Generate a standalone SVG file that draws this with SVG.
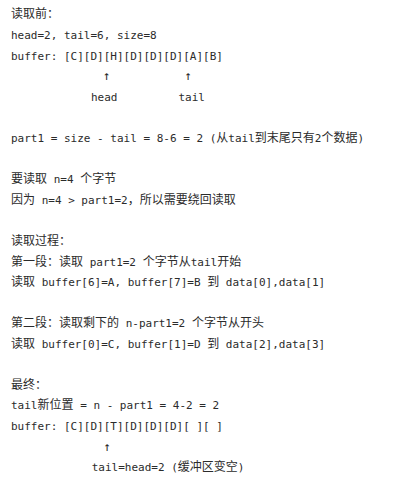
<svg xmlns="http://www.w3.org/2000/svg" width="409" height="485" viewBox="0 0 409 485">
<style>
text{font-family:"DejaVu Sans Mono","Noto Sans CJK SC",monospace;font-size:11px;fill:#2b2b2b;white-space:pre}
.c{font-family:"Noto Sans CJK SC",sans-serif;font-size:12px}
.a{font-size:12.5px}
</style>
<rect width="409" height="485" fill="#ffffff"/>
<g id="before">
<text x="11" y="18.3"><tspan class="c">读取前：</tspan></text>
<text x="11" y="38.9">head=2, tail=6, size=8</text>
<text x="11" y="59.5">buffer: [C][D][H][D][D][D][A][B]</text>
<text class="a" x="106.7" y="80.3" text-anchor="middle">↑</text>
<text class="a" x="188.3" y="80.3" text-anchor="middle">↑</text>
<text x="91" y="100.7">head</text>
<text x="178.5" y="100.7">tail</text>
</g>
<g id="calc">
<text x="11" y="141.9">part1 = size - tail = 8-6 = 2 (<tspan class="c">从</tspan>tail<tspan class="c">到末尾只有</tspan>2<tspan class="c">个数据</tspan>)</text>
<text x="11" y="183.1"><tspan class="c">要读取</tspan> n=4 <tspan class="c">个字节</tspan></text>
<text x="11" y="203.7"><tspan class="c">因为</tspan> n=4 &gt; part1=2<tspan class="c">，所以需要绕回读取</tspan></text>
</g>
<g id="process">
<text x="11" y="244.7"><tspan class="c">读取过程：</tspan></text>
<text x="11" y="265.5"><tspan class="c">第一段：读取</tspan> part1=2 <tspan class="c">个字节从</tspan>tail<tspan class="c">开始</tspan></text>
<text x="11" y="286.1"><tspan class="c">读取</tspan> buffer[6]=A, buffer[7]=B <tspan class="c">到</tspan> data[0],data[1]</text>
<text x="11" y="326.9"><tspan class="c">第二段：读取剩下的</tspan> n-part1=2 <tspan class="c">个字节从开头</tspan></text>
<text x="11" y="347.5"><tspan class="c">读取</tspan> buffer[0]=C, buffer[1]=D <tspan class="c">到</tspan> data[2],data[3]</text>
</g>
<g id="final">
<text x="11" y="388.5"><tspan class="c">最终：</tspan></text>
<text x="11" y="409.3">tail<tspan class="c">新位置</tspan> = n - part1 = 4-2 = 2</text>
<text x="11" y="429.9">buffer: [C][D][T][D][D][D][ ][ ]</text>
<text class="a" x="107.3" y="450.7" text-anchor="middle">↑</text>
<text x="91.7" y="471.3">tail=head=2 (<tspan class="c">缓冲区变空</tspan>)</text>
</g>
</svg>
